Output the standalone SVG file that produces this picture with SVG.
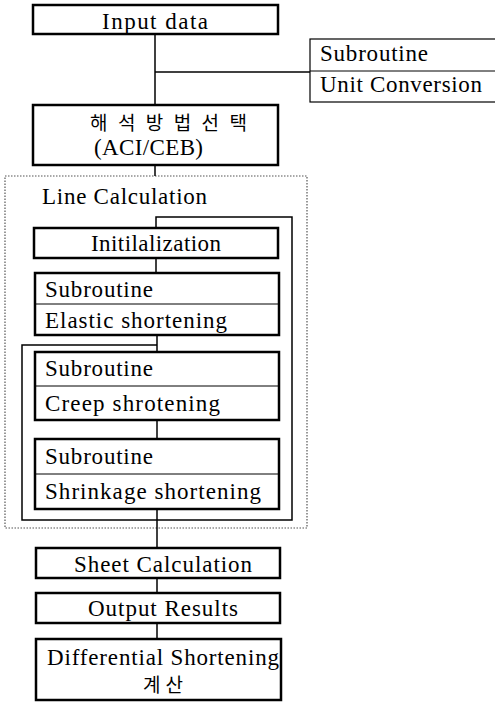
<svg xmlns="http://www.w3.org/2000/svg" width="495" height="702" viewBox="0 0 495 702">
<style>
.box{fill:#fff;stroke:#000;stroke-width:2.5}
.thin{fill:#fff;stroke:#000;stroke-width:1.2}
.div{stroke:#000;stroke-width:1}
.t{font-family:"Liberation Serif","Noto Sans CJK KR",serif;font-size:23px;fill:#000}
.k{font-family:"Noto Sans CJK KR",sans-serif;font-size:19px;fill:#000}
.c{fill:none;stroke:#000;stroke-width:1.5}
.dot{fill:none;stroke:#555;stroke-width:1.2;stroke-dasharray:1.5 1.5}
</style>
<rect width="495" height="702" fill="#fff"/>
<g id="line-calculation-frame">
<rect class="dot" x="5" y="176" width="302" height="352"/>
<text class="t" x="42" y="204" textLength="165" lengthAdjust="spacing">Line Calculation</text>
</g>
<g id="connectors">
<line class="c" x1="155" y1="34" x2="155" y2="105"/>
<line class="c" x1="155" y1="72" x2="310" y2="72"/>
<line class="c" x1="155" y1="165" x2="155" y2="176"/>
<polyline class="c" points="156,228 156,217 292,217 292,520 22,520 22,345 157,345"/>
<line class="c" x1="156" y1="258" x2="156" y2="273"/>
<line class="c" x1="157" y1="335" x2="157" y2="352"/>
<line class="c" x1="157" y1="420" x2="157" y2="439"/>
<line class="c" x1="157" y1="509" x2="157" y2="548"/>
<line class="c" x1="157" y1="578" x2="157" y2="593"/>
<line class="c" x1="157" y1="623" x2="157" y2="639"/>
</g>
<g id="input-data">
<rect class="box" x="33" y="5" width="245" height="29"/>
<text class="t" x="102" y="29" textLength="106" lengthAdjust="spacing">Input data</text>
</g>
<g id="unit-conversion">
<rect class="thin" x="310" y="39" width="200" height="63"/>
<line class="div" x1="310" y1="71" x2="495" y2="71"/>
<text class="t" x="320" y="61" textLength="108" lengthAdjust="spacing">Subroutine</text>
<text class="t" x="320" y="92" textLength="162" lengthAdjust="spacing">Unit Conversion</text>
</g>
<g id="method-select">
<rect class="box" x="33" y="105" width="245" height="60"/>
<text class="k" x="90" y="130" textLength="157" lengthAdjust="spacing">해석방법선택</text>
<text class="t" x="94" y="155" textLength="109" lengthAdjust="spacing">(ACI/CEB)</text>
</g>
<g id="initialization">
<rect class="box" x="34" y="228" width="244" height="30"/>
<text class="t" x="91" y="251" textLength="130" lengthAdjust="spacing">Initilalization</text>
</g>
<g id="elastic">
<rect class="box" x="35" y="273" width="244" height="62"/>
<line class="div" x1="35" y1="304" x2="279" y2="304"/>
<text class="t" x="45" y="297" textLength="108" lengthAdjust="spacing">Subroutine</text>
<text class="t" x="45" y="328" textLength="182" lengthAdjust="spacing">Elastic shortening</text>
</g>
<g id="creep">
<rect class="box" x="35" y="352" width="244" height="68"/>
<line class="div" x1="35" y1="386" x2="279" y2="386"/>
<text class="t" x="45" y="376" textLength="108" lengthAdjust="spacing">Subroutine</text>
<text class="t" x="45" y="411" textLength="175" lengthAdjust="spacing">Creep shrotening</text>
</g>
<g id="shrinkage">
<rect class="box" x="35" y="439" width="244" height="70"/>
<line class="div" x1="35" y1="474" x2="279" y2="474"/>
<text class="t" x="45" y="464" textLength="108" lengthAdjust="spacing">Subroutine</text>
<text class="t" x="45" y="499" textLength="216" lengthAdjust="spacing">Shrinkage shortening</text>
</g>
<g id="sheet-calculation">
<rect class="box" x="36" y="548" width="244" height="30"/>
<text class="t" x="74" y="572" textLength="178" lengthAdjust="spacing">Sheet Calculation</text>
</g>
<g id="output-results">
<rect class="box" x="36" y="593" width="244" height="30"/>
<text class="t" x="88" y="616" textLength="150" lengthAdjust="spacing">Output Results</text>
</g>
<g id="differential">
<rect class="box" x="36" y="639" width="245" height="61"/>
<text class="t" x="47" y="665" textLength="232" lengthAdjust="spacing">Differential Shortening</text>
<text class="k" x="143" y="692" textLength="40" lengthAdjust="spacing">계산</text>
</g>
</svg>
